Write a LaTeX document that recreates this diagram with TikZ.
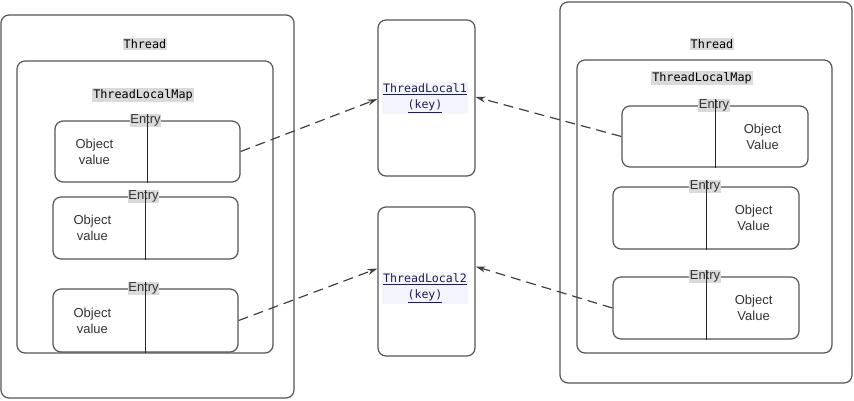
\documentclass[tikz,border=0pt]{standalone}
\usepackage{fontspec}
\setmainfont{Liberation Sans}
\newfontfamily\codefont{DejaVu Sans Mono}
\usetikzlibrary{arrows.meta}
\definecolor{edge}{HTML}{555555}
\definecolor{txt}{HTML}{333333}
\definecolor{hl}{HTML}{DADADA}
\definecolor{keyc}{HTML}{1E1E50}
\definecolor{keybg}{HTML}{F2F5FB}
\begin{document}
\begin{tikzpicture}[x=1pt,y=-1pt,
  box/.style={draw=edge,line width=1.2pt,rounded corners=8pt,inner sep=0pt},
  codelbl/.style={font=\codefont\fontsize{11.8}{13}\selectfont,fill=hl,inner sep=1pt,text=black},
  entrylbl/.style={font=\fontsize{13}{15}\selectfont,fill=hl,inner sep=0.5pt,text=txt},
  objlbl/.style={font=\fontsize{13}{16}\selectfont,align=center,text=txt},
  keylbl/.style={font=\codefont\fontsize{11.6}{16}\selectfont,align=center,text=keyc,fill=keybg,inner sep=1pt},
  divider/.style={draw=black!85,line width=0.9pt},
  ref/.style={draw=black!75,line width=1.2pt,dash pattern=on 10pt off 6pt,-{Stealth[length=10pt,width=6pt]}}
]
\useasboundingbox (0,0) rectangle (854,400);
% left thread
\node[box,minimum width=293pt,minimum height=383pt] (lthread) at (147.5,206.5) {};
\node[codelbl] (lthreadt) at (145,44) {Thread};
\node[box,minimum width=256pt,minimum height=292pt] (lmap) at (145,207) {};
\node[codelbl] (lmapt) at (143,95) {ThreadLocalMap};
% left entries
\node[box,minimum width=185pt,minimum height=61pt] (le1) at (147.5,151.5) {};
\node[box,minimum width=185pt,minimum height=62pt] (le2) at (145.5,228) {};
\node[box,minimum width=185pt,minimum height=63pt] (le3) at (145.5,320.5) {};
\foreach \e in {le1,le2,le3}{
  \node[entrylbl] (\e l) at ([xshift=-2pt]\e.north) {Entry};
  \draw[divider] (\e.south) -- (\e l.north -| \e.south);
  \node[objlbl] (\e o) at ([xshift=40pt]\e.west) {Object\\value};
}
% thread locals
\node[box,minimum width=97pt,minimum height=156pt] (tl1) at (426.5,98) {};
\node[keylbl] (tl1t) at (425,98) {\underline{ThreadLocal1}\\\underline{(key)}};
\node[box,minimum width=97pt,minimum height=149pt] (tl2) at (426.5,281.5) {};
\node[keylbl] (tl2t) at (425,288) {\underline{ThreadLocal2}\\\underline{(key)}};
% right thread
\node[box,minimum width=292pt,minimum height=381pt] (rthread) at (706,192.5) {};
\node[codelbl] (rthreadt) at (712,44) {Thread};
\node[box,minimum width=255pt,minimum height=293pt] (rmap) at (704.5,206.5) {};
\node[codelbl] (rmapt) at (702,78) {ThreadLocalMap};
\node[box,minimum width=186pt,minimum height=61pt] (re1) at (715,136.5) {};
\node[box,minimum width=186pt,minimum height=62pt] (re2) at (706,218) {};
\node[box,minimum width=186pt,minimum height=62pt] (re3) at (706,308) {};
\foreach \e in {re1,re2,re3}{
  \node[entrylbl] (\e l) at ([xshift=-1pt]\e.north) {Entry};
  \draw[divider] (\e.south) -- (\e l.north -| \e.south);
  \node[objlbl] (\e o) at ([xshift=-46pt]\e.east) {Object\\Value};
}
% references
\draw[ref] (le1.east) -- ([yshift=-1pt]tl1.west);
\draw[ref] (re1.west) -- ([yshift=1pt]tl1.east);
\draw[ref] (le3.east) -- ([yshift=13pt]tl2.west);
\draw[ref] (re3.west) -- ([yshift=15pt]tl2.east);
\end{tikzpicture}
\end{document}
